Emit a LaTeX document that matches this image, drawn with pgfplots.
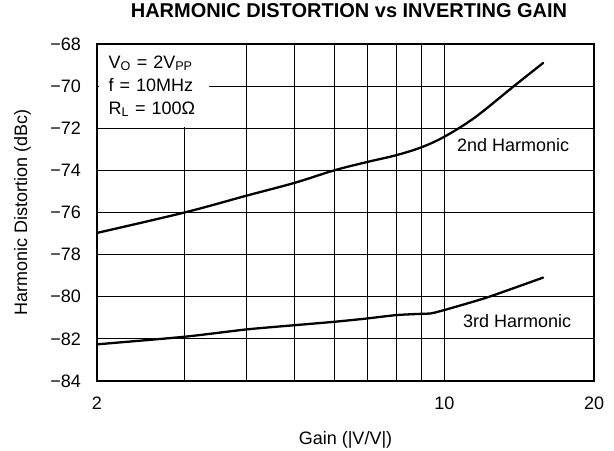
\documentclass[border=0pt]{standalone}
\usepackage{fontspec}
\setmainfont{Liberation Sans}
\usepackage{pgfplots}
\pgfplotsset{compat=1.18}
\begin{document}
\begin{tikzpicture}[x=1bp,y=1bp]
\path[use as bounding box] (0,0) rectangle (614,451);
\begin{axis}[
  at={(97bp,70bp)}, anchor=south west,
  scale only axis, width=497bp, height=337bp,
  xmode=log, xmin=2, xmax=20, ymin=-84, ymax=-68,
  xtick={2,10,20}, xticklabels={2,10,20},
  minor xtick={3,4,5,6,7,8,9},
  ytick={-84,-82,-80,-78,-76,-74,-72,-70,-68},
  yticklabels={−84,−82,−80,−78,−76,−74,−72,−70,−68},
  grid=both,
  major grid style={black, line width=0.8bp},
  minor grid style={black, line width=0.8bp},
  axis line style={line width=2.3bp, line join=miter},
  major tick length=0pt, minor tick length=0pt,
  tick label style={font=\fontsize{18bp}{20bp}\selectfont},
  yticklabel style={anchor=east, inner sep=0pt, xshift=-16bp},
  xticklabel style={anchor=base, inner sep=0pt, yshift=-29bp},
  xlabel={Gain (|V/V|)},
  ylabel={Harmonic Distortion (dBc)},
  label style={font=\fontsize{18bp}{20bp}\selectfont},
  xlabel style={at={(axis description cs:0.5,0)}, anchor=base, inner sep=0pt, yshift=-64bp},
  ylabel style={at={(axis description cs:-0.1408,0.5)}, anchor=base, inner sep=0pt, rotate=0},
  title={HARMONIC DISTORTION vs INVERTING GAIN},
  title style={at={(axis description cs:0.507,1)}, anchor=base, inner sep=0pt, yshift=21bp, font=\fontsize{20bp}{24bp}\selectfont\bfseries},
]
\addplot[black, line width=2.3bp, smooth, tension=0.55, line cap=round] coordinates {
  (2,-76.97) (3,-76.0) (4,-75.2) (5,-74.59) (6,-74.0) (7,-73.6)
  (8,-73.28) (9,-72.9) (10,-72.4) (11.5,-71.5) (13.8,-70.0) (15.8,-68.9)
};
\addplot[black, line width=2.3bp, smooth, tension=0.35, line cap=round] coordinates {
  (2,-82.26) (3,-81.9) (4,-81.55) (5,-81.35) (6,-81.19) (7,-81.03) (8,-80.87)
  (9,-80.81) (9.4,-80.79) (10,-80.63) (12.2,-80.03) (15.8,-79.09)
};
\node[anchor=west, inner sep=0pt, font=\fontsize{18bp}{20bp}\selectfont] at (axis cs:10.6,-72.79) {2nd Harmonic};
\node[anchor=west, inner sep=0pt, font=\fontsize{18bp}{20bp}\selectfont] at (axis cs:10.9,-81.14) {3rd Harmonic};
\node[anchor=north west, fill=white, inner xsep=10bp, inner ysep=10bp, text width=90bp, align=left,
      font=\fontsize{18bp}{23bp}\selectfont]
  at ([xshift=1.3bp,yshift=-1.3bp]rel axis cs:0,1)
  {V\textsubscript{O} = 2V\textsubscript{PP}\\ f = 10MHz\\ R\textsubscript{L} = 100Ω};
\end{axis}
\end{tikzpicture}
\end{document}
